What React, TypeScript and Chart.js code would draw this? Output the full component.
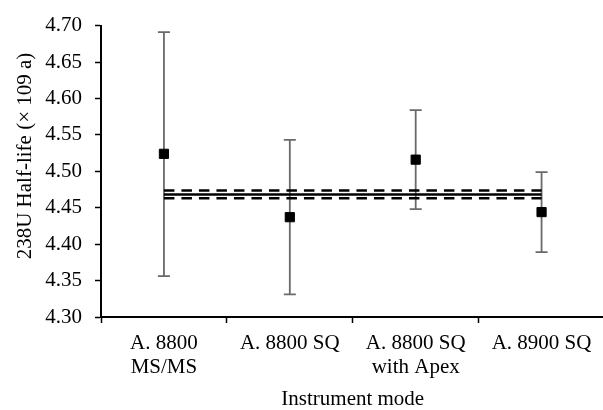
import React, { useEffect, useRef } from "react";
import { Chart, registerables } from "chart.js";

Chart.register(...registerables);

const categories: string[][] = [
  ["A. 8800", "MS/MS"],
  ["A. 8800 SQ"],
  ["A. 8800 SQ", "with Apex"],
  ["A. 8900 SQ"],
];
const halfLife = [4.524, 4.437, 4.516, 4.444];
const errorLow = [4.356, 4.331, 4.448, 4.389];
const errorHigh = [4.691, 4.543, 4.584, 4.499];
const meanValue = 4.468;
const upperBound = 4.4735;
const lowerBound = 4.463;
const yTickValues = [4.3, 4.35, 4.4, 4.45, 4.5, 4.55, 4.6, 4.65, 4.7];

const FONT = "'Liberation Serif', 'Times New Roman', serif";

const errorBarPlugin = {
  id: "errorBars",
  beforeDatasetsDraw(chart: any) {
    const { ctx, scales } = chart;
    const x = scales.x;
    const y = scales.y;
    ctx.save();
    ctx.strokeStyle = "#6a6a6a";
    ctx.lineWidth = 1.8;
    halfLife.forEach((_, i) => {
      const px = x.getPixelForValue(i);
      const top = y.getPixelForValue(errorHigh[i]);
      const bot = y.getPixelForValue(errorLow[i]);
      ctx.beginPath();
      ctx.moveTo(px, top);
      ctx.lineTo(px, bot);
      ctx.moveTo(px - 6, top);
      ctx.lineTo(px + 6, top);
      ctx.moveTo(px - 6, bot);
      ctx.lineTo(px + 6, bot);
      ctx.stroke();
    });
    ctx.restore();
  },
};

const yTitlePlugin = {
  id: "yTitle",
  afterDraw(chart: any) {
    const { ctx } = chart;
    ctx.save();
    ctx.translate(25, 156);
    ctx.rotate(-Math.PI / 2);
    ctx.font = `21px ${FONT}`;
    ctx.fillStyle = "#000";
    ctx.textAlign = "center";
    ctx.textBaseline = "middle";
    ctx.fillText("238U Half-life (× 109 a)", 0, 0);
    ctx.restore();
  },
};

export default function App() {
  const ref = useRef<HTMLCanvasElement>(null);
  useEffect(() => {
    if (!ref.current) return;
    const chart = new Chart(ref.current, {
      type: "line",
      data: {
        labels: categories,
        datasets: [
          {
            label: "Half-life",
            data: halfLife,
            showLine: false,
            pointStyle: "rect",
            pointRadius: 6.5,
            pointBorderWidth: 1,
            pointBackgroundColor: "#000",
            pointBorderColor: "#000",
            order: 0,
          },
          {
            label: "Mean",
            data: categories.map(() => meanValue),
            borderColor: "#000",
            borderWidth: 2.5,
            pointRadius: 0,
            fill: false,
            order: 1,
          },
          {
            label: "Upper",
            data: categories.map(() => upperBound),
            borderColor: "#000",
            borderWidth: 2.5,
            borderDash: [10.5, 7],
            pointRadius: 0,
            fill: false,
            order: 1,
          },
          {
            label: "Lower",
            data: categories.map(() => lowerBound),
            borderColor: "#000",
            borderWidth: 2.5,
            borderDash: [10.5, 7],
            pointRadius: 0,
            fill: false,
            order: 1,
          },
        ],
      },
      options: {
        animation: false,
        responsive: false,
        events: [],
        layout: { padding: { top: 23, right: 3, left: 0, bottom: 0 } },
        plugins: { legend: { display: false }, tooltip: { enabled: false } },
        scales: {
          x: {
            type: "category",
            offset: true,
            afterFit: (s: any) => {
              s.height = 93;
            },
            grid: {
              drawOnChartArea: false,
              offset: true,
              tickLength: 6,
              tickColor: "#000",
              tickWidth: 1.5,
            },
            border: { color: "#000", width: 2 },
            ticks: {
              color: "#000",
              font: { family: FONT, size: 21, lineHeight: 1.157 },
              padding: 8,
              maxRotation: 0,
              autoSkip: false,
            },
            title: {
              display: true,
              text: "Instrument mode",
              color: "#000",
              font: { family: FONT, size: 21, lineHeight: 1 },
              padding: { top: 0, bottom: 0 },
            },
          },
          y: {
            min: 4.3,
            max: 4.7,
            afterFit: (s: any) => {
              s.width = 101;
            },
            afterBuildTicks: (s: any) => {
              s.ticks = yTickValues.map((v) => ({ value: v }));
            },
            grid: {
              drawOnChartArea: false,
              tickLength: 6,
              tickColor: "#000",
              tickWidth: 1.5,
            },
            border: { color: "#000", width: 2 },
            ticks: {
              color: "#000",
              font: { family: FONT, size: 21 },
              padding: 13,
              callback: (v: any) => Number(v).toFixed(2),
            },
          },
        },
      },
      plugins: [errorBarPlugin, yTitlePlugin],
    });
    return () => chart.destroy();
  }, []);
  return (
    <div
      style={{
        position: "fixed",
        left: 0,
        top: 0,
        width: 603,
        height: 410,
        overflow: "hidden",
        background: "#fff",
      }}
    >
      <canvas ref={ref} width={612} height={410} style={{ width: 612, height: 410 }} />
    </div>
  );
}
